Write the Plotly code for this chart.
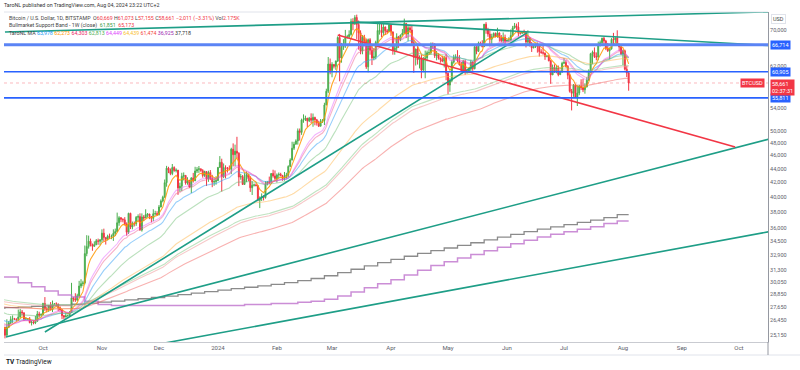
import numpy as np
import pandas as pd
import plotly.graph_objects as go

# ---------------- daily BTCUSD (thousand USD), 2023-09-10 .. 2024-08-04 ----------------
first_open = 25.90
close_sep = [25.84, 25.16, 25.85, 26.23, 26.53, 26.60, 26.57, 26.53, 26.76, 27.21, 27.13, 26.57, 26.58, 26.58, 26.25, 26.30, 26.22, 26.37, 27.02, 26.91, 26.97]
high_sep = [26.00, 25.88, 26.55, 26.40, 26.82, 26.89, 26.67, 26.62, 27.43, 27.49, 27.39, 27.16, 26.74, 26.64, 26.74, 26.43, 26.39, 26.84, 27.30, 27.23, 27.09]
low_sep = [25.62, 24.90, 25.13, 25.77, 26.13, 26.23, 26.48, 26.39, 26.40, 26.67, 26.88, 26.40, 26.51, 26.50, 26.19, 26.00, 26.10, 26.12, 26.33, 26.70, 26.88]

close_oct = [27.99, 27.50, 27.43, 27.79, 27.41, 27.94, 27.96, 27.93, 27.59, 27.39, 26.87, 26.75, 26.86, 26.86, 27.16, 28.52, 28.42, 28.33, 28.72, 29.68, 29.92, 29.99, 33.09, 33.90, 34.50, 34.16, 33.91, 34.09, 34.54, 34.49, 34.66]
high_oct = [28.06, 28.60, 27.67, 27.83, 28.12, 28.27, 28.03, 28.10, 27.99, 27.72, 27.48, 26.94, 27.10, 26.97, 27.29, 30.00, 28.62, 28.97, 28.92, 30.20, 30.37, 30.21, 34.00, 35.20, 35.15, 34.80, 34.20, 34.48, 34.75, 34.80, 34.72]
low_oct = [26.95, 27.30, 27.16, 27.21, 27.35, 27.20, 27.87, 27.75, 27.29, 27.32, 26.56, 26.57, 26.72, 26.82, 26.82, 27.11, 28.16, 28.14, 28.21, 28.60, 29.47, 29.66, 29.85, 32.80, 33.65, 33.90, 33.41, 33.86, 34.05, 34.09, 34.05]

close_nov = [35.44, 34.94, 34.73, 35.08, 35.04, 35.05, 35.42, 35.63, 36.70, 37.32, 37.14, 37.07, 36.49, 35.55, 37.88, 36.17, 36.60, 36.58, 37.38, 37.47, 35.81, 37.42, 37.29, 37.72, 37.80, 37.48, 37.25, 37.83, 37.86, 37.72]
high_nov = [35.90, 35.98, 34.94, 35.26, 35.39, 35.28, 35.90, 35.99, 37.97, 37.52, 37.41, 37.25, 37.40, 36.75, 37.95, 37.95, 36.85, 36.85, 37.54, 37.75, 37.88, 37.87, 37.65, 38.40, 37.90, 37.60, 37.55, 38.40, 38.20, 38.15]
low_nov = [34.35, 34.47, 34.11, 34.58, 34.78, 34.73, 34.53, 35.11, 35.58, 36.33, 36.77, 36.76, 36.37, 35.15, 35.35, 35.93, 35.90, 36.25, 36.32, 36.87, 35.76, 35.63, 36.90, 37.27, 37.36, 37.15, 36.75, 36.90, 37.60, 37.55]

close_dec = [38.69, 39.47, 39.98, 41.99, 44.08, 43.77, 43.29, 44.18, 43.72, 43.79, 41.25, 41.49, 42.89, 43.02, 41.94, 42.28, 41.36, 42.66, 42.26, 43.66, 43.87, 43.99, 43.72, 43.01, 43.58, 42.51, 43.44, 42.58, 42.07, 42.14, 42.28]
high_dec = [38.95, 39.69, 40.19, 42.43, 44.42, 44.28, 44.03, 44.70, 44.35, 44.05, 43.80, 41.98, 43.40, 43.45, 43.08, 42.75, 42.40, 42.75, 43.38, 44.28, 44.23, 44.40, 43.80, 43.94, 43.70, 43.60, 43.70, 43.80, 43.10, 42.60, 42.90]
low_dec = [37.60, 38.65, 39.30, 39.95, 41.42, 43.35, 43.05, 43.05, 43.55, 43.45, 40.30, 40.70, 40.80, 42.30, 41.70, 41.70, 41.30, 40.54, 42.00, 42.20, 43.37, 43.38, 43.55, 42.70, 42.80, 41.52, 42.10, 42.35, 41.35, 41.55, 41.70]

close_jan = [44.19, 44.95, 42.85, 44.17, 44.16, 43.97, 43.93, 46.97, 46.12, 46.66, 46.35, 42.78, 42.85, 41.73, 42.51, 43.15, 42.74, 41.27, 41.62, 41.67, 41.56, 39.57, 39.89, 40.08, 39.93, 41.82, 42.12, 42.03, 43.30, 42.95, 42.58]
high_jan = [44.24, 45.90, 45.50, 44.78, 44.50, 44.23, 44.48, 47.20, 47.90, 47.70, 48.97, 46.50, 43.26, 43.08, 43.35, 43.58, 43.20, 42.90, 42.20, 41.86, 41.88, 41.67, 40.10, 40.50, 40.26, 42.20, 42.20, 42.85, 43.32, 43.85, 43.74]
low_jan = [42.20, 44.18, 40.75, 42.62, 42.60, 43.43, 43.80, 43.20, 44.34, 44.35, 45.62, 41.50, 42.40, 41.70, 41.72, 42.05, 42.20, 40.70, 40.28, 41.45, 41.50, 39.45, 38.55, 39.48, 39.55, 39.80, 41.60, 41.78, 41.85, 42.70, 42.28]

close_feb = [43.08, 43.18, 42.99, 42.58, 42.66, 43.09, 44.34, 45.29, 47.13, 47.77, 48.29, 49.96, 49.70, 51.81, 51.90, 52.13, 51.66, 52.12, 51.78, 52.26, 51.85, 51.30, 50.74, 51.57, 51.73, 54.49, 57.06, 62.50, 61.17]
high_feb = [43.30, 43.45, 43.40, 43.10, 43.52, 43.40, 44.50, 45.56, 48.17, 48.15, 48.55, 50.36, 50.35, 52.05, 52.80, 52.57, 52.18, 52.35, 52.98, 52.95, 52.38, 52.00, 51.68, 51.98, 51.96, 54.90, 57.55, 64.00, 63.68]
low_feb = [42.00, 42.60, 42.88, 42.25, 42.27, 42.60, 42.80, 44.30, 45.26, 46.85, 47.72, 47.70, 48.35, 49.29, 51.33, 51.63, 50.60, 51.45, 51.28, 50.65, 50.90, 50.85, 50.60, 50.90, 51.30, 50.95, 54.45, 56.70, 60.40]

close_mar = [62.44, 62.03, 63.13, 68.33, 63.80, 66.11, 66.93, 68.30, 68.50, 69.02, 72.12, 71.48, 73.08, 71.40, 69.43, 65.30, 68.39, 67.61, 61.93, 67.84, 65.50, 63.80, 64.07, 67.23, 69.96, 69.99, 69.46, 70.78, 69.89, 69.65, 71.31]
high_mar = [62.90, 62.40, 63.25, 68.60, 69.17, 67.10, 67.95, 70.10, 68.95, 70.00, 72.80, 72.90, 73.65, 73.78, 72.35, 70.00, 68.90, 68.95, 68.10, 68.10, 68.20, 66.60, 65.94, 67.60, 71.50, 71.50, 71.65, 71.50, 70.90, 70.30, 71.35]
low_mar = [59.80, 61.60, 61.30, 62.95, 59.00, 62.80, 65.55, 66.00, 68.10, 68.20, 68.75, 70.00, 71.30, 68.00, 65.60, 64.60, 64.60, 66.60, 61.50, 60.80, 64.50, 62.30, 63.30, 63.50, 66.80, 69.00, 68.40, 68.80, 68.90, 69.30, 69.60]

close_apr = [69.65, 65.46, 65.96, 68.50, 67.83, 68.90, 69.36, 71.62, 69.14, 70.59, 70.06, 67.15, 63.90, 65.74, 63.42, 63.80, 61.28, 63.47, 63.82, 64.94, 64.94, 66.84, 66.41, 64.28, 64.50, 63.77, 63.46, 63.12, 63.84, 60.61]
high_apr = [71.30, 69.65, 66.90, 69.30, 68.70, 69.00, 70.30, 72.80, 71.70, 71.20, 71.30, 71.20, 67.90, 65.82, 66.90, 64.35, 64.45, 64.00, 65.40, 65.40, 65.70, 67.20, 67.20, 67.05, 65.30, 64.80, 63.90, 64.30, 64.20, 64.70]
low_apr = [68.70, 64.50, 64.50, 65.10, 66.00, 67.50, 68.80, 69.05, 68.20, 67.50, 69.50, 66.70, 60.70, 62.20, 62.40, 61.60, 59.60, 60.80, 59.60, 63.10, 64.50, 64.50, 65.80, 63.80, 63.30, 63.45, 62.80, 62.90, 61.80, 59.20]

close_may = [58.25, 59.12, 62.90, 63.89, 64.03, 63.16, 62.33, 61.18, 63.08, 60.79, 60.80, 61.45, 62.90, 61.55, 66.25, 65.23, 67.05, 66.94, 66.27, 71.45, 70.14, 69.12, 67.93, 68.53, 69.27, 68.51, 69.40, 68.31, 67.60, 68.36, 67.49]
high_may = [60.80, 59.60, 63.30, 64.50, 64.60, 65.50, 64.40, 62.95, 63.40, 63.45, 61.50, 61.80, 63.40, 63.10, 66.40, 66.70, 67.40, 67.40, 67.70, 71.50, 71.95, 70.60, 70.00, 69.20, 69.50, 69.50, 70.60, 69.50, 68.90, 69.50, 69.00]
low_may = [56.50, 56.95, 58.80, 62.60, 63.45, 62.90, 62.20, 60.80, 60.70, 60.30, 60.50, 60.60, 60.80, 61.10, 61.40, 64.60, 65.10, 66.70, 66.10, 66.20, 69.20, 68.50, 66.30, 66.60, 68.50, 68.40, 68.30, 67.40, 67.20, 67.10, 66.70]

close_jun = [67.74, 67.77, 68.81, 70.56, 71.07, 70.76, 69.34, 69.31, 69.65, 69.51, 67.32, 68.24, 66.76, 66.01, 66.19, 66.64, 66.49, 65.15, 64.96, 64.84, 64.10, 64.25, 63.18, 60.28, 61.80, 60.84, 61.68, 60.32, 60.89, 62.68]
high_jun = [67.85, 68.40, 70.20, 71.05, 71.75, 71.60, 71.95, 69.50, 69.85, 70.15, 69.55, 70.00, 68.45, 67.30, 66.40, 66.95, 67.20, 66.60, 65.70, 66.45, 65.00, 64.50, 64.50, 63.35, 62.40, 62.45, 62.30, 62.20, 61.20, 63.00]
low_jun = [67.40, 67.30, 67.60, 68.50, 70.40, 70.10, 68.60, 69.00, 69.20, 69.20, 66.10, 66.90, 66.30, 65.10, 65.90, 66.00, 64.95, 64.10, 64.70, 64.50, 63.40, 63.95, 63.10, 58.50, 60.40, 60.70, 60.60, 60.00, 60.30, 60.70]

close_jul = [62.85, 62.03, 60.20, 57.04, 56.66, 58.23, 55.86, 56.71, 58.05, 57.72, 57.34, 57.89, 59.21, 60.79, 64.72, 65.04, 64.09, 63.99, 66.66, 67.15, 68.16, 67.55, 65.93, 65.37, 65.79, 67.90, 67.81, 68.25, 66.78, 66.19, 64.62]
high_jul = [63.80, 63.30, 62.30, 60.50, 57.50, 58.45, 58.40, 58.20, 58.30, 59.40, 59.50, 58.60, 59.80, 61.40, 64.90, 65.40, 66.10, 65.00, 67.40, 67.65, 68.30, 68.45, 67.80, 67.10, 66.10, 68.20, 69.40, 68.30, 70.00, 66.95, 66.80]
low_jul = [62.50, 61.80, 59.40, 56.80, 53.50, 56.00, 55.80, 54.30, 56.30, 57.30, 56.90, 56.60, 57.80, 59.10, 60.70, 62.50, 63.80, 63.30, 63.30, 66.30, 66.50, 66.60, 65.50, 65.10, 63.50, 65.60, 66.70, 67.10, 66.50, 65.30, 64.50]

close_aug = [65.35, 61.45, 60.669, 58.661]
high_aug = [65.60, 65.60, 62.15, 61.073]
low_aug = [62.30, 61.20, 59.85, 57.155]

months_close = [close_sep, close_oct, close_nov, close_dec, close_jan, close_feb, close_mar, close_apr, close_may, close_jun, close_jul, close_aug]
months_high = [high_sep, high_oct, high_nov, high_dec, high_jan, high_feb, high_mar, high_apr, high_may, high_jun, high_jul, high_aug]
months_low = [low_sep, low_oct, low_nov, low_dec, low_jan, low_feb, low_mar, low_apr, low_may, low_jun, low_jul, low_aug]
month_days = [21, 31, 30, 31, 31, 29, 31, 30, 31, 30, 31, 4]
for c, h, l, n in zip(months_close, months_high, months_low, month_days):
    assert len(c) == n and len(h) == n and len(l) == n, (len(c), len(h), len(l), n)

close = [v * 1000 for m in months_close for v in m]
high = [v * 1000 for m in months_high for v in m]
low = [v * 1000 for m in months_low for v in m]
open_ = [first_open * 1000] + close[:-1]
high = [max(h, o, c) for h, o, c in zip(high, open_, close)]
low = [min(l, o, c) for l, o, c in zip(low, open_, close)]
dates = pd.date_range("2023-09-10", periods=len(close), freq="D")

# ---------------- moving averages (EMA of closes, seeded with value read at left edge) ----------------
ma_len = [30, 7, 21, 50, 18, 100, 200, 140, 147]
ma_seed = [26500, 25950, 26200, 27200, 26100, 28000, 27700, 28400, 28200]
ma_color = ["#42a5f5", "#ff9800", "#f06292", "#66bb6a", "#e040fb", "#ffb74d", "#ef5350", "#81c784", "#ef9a9a"]
ma_alpha = [0.55, 0.85, 0.5, 0.45, 0.4, 0.5, 0.45, 0.5, 0.55]

# weekly (Monday) long moving averages (thousand USD)
week_start = pd.date_range("2023-09-04", periods=48, freq="7D")
gray_wk = [27.55, 27.60, 27.66, 27.72, 27.78, 27.84, 27.92, 28.02, 28.12, 28.22, 28.33, 28.44, 28.56, 28.70, 28.84, 28.98,
           29.12, 29.27, 29.42, 29.56, 29.70, 29.85, 30.02, 30.22, 30.44, 30.72, 31.05, 31.40, 31.75, 32.10, 32.45, 32.80,
           33.12, 33.42, 33.72, 34.02, 34.32, 34.65, 34.98, 35.30, 35.62, 35.92, 36.20, 36.48, 36.75, 37.02, 37.35, 37.718]
purple_wk = [30.6, 30.6, 30.0, 29.6, 29.2, 28.8, 28.6, 28.2, 27.9, 27.8, 27.8, 27.8, 27.8, 27.8, 27.8, 27.8,
             27.8, 27.8, 27.8, 27.9, 27.9, 28.0, 28.0, 28.1, 28.2, 28.4, 28.7, 29.1, 29.5, 29.9, 30.3, 30.8,
             31.3, 31.8, 32.2, 32.6, 33.0, 33.4, 33.8, 34.2, 34.6, 35.0, 35.3, 35.6, 35.9, 36.2, 36.6, 36.925]

# horizontal levels
h_levels = [66714, 60905, 55811]
h_width = [3, 1.6, 1.6]
h_color = ["#5b84f5", "#2962ff", "#2962ff"]

# trend lines: (start date, start price, end date, end price)
trend_teal = [
    ("2023-09-11", 69620, "2024-10-17", 74480),
    ("2024-03-14", 71950, "2024-10-17", 66510),
    ("2023-10-02", 25440, "2024-06-11 12:00", 69390),
    ("2023-09-11 12:00", 25020, "2024-10-17", 48610),
    ("2023-12-01 12:00", 24440, "2024-10-17", 35620),
]
trend_red = [("2024-03-04", 68920, "2024-09-29", 47330)]

x_ticks = ["2023-10-01", "2023-11-01", "2023-12-01", "2024-01-01", "2024-02-01", "2024-03-01", "2024-04-01",
           "2024-05-01", "2024-06-01", "2024-07-01", "2024-08-01", "2024-09-01", "2024-10-01"]
x_labels = ["Oct", "Nov", "Dec", "2024", "Feb", "Mar", "Apr", "May", "Jun", "Jul", "Aug", "Sep", "Oct"]
y_ticks = [70000, 62000, 54000, 50000, 48000, 46000, 44000, 42000, 40000, 38000, 36000, 34500, 32900, 31300,
           30050, 28850, 27650, 26450, 25150]
last_price = 58661


def ema(values, n, seed):
    a = 2.0 / (n + 1)
    e = seed
    out = []
    for v in values:
        e = e + a * (v - e)
        out.append(e)
    return out


def rgba(hexc, a):
    hexc = hexc.lstrip("#")
    r, g, b = int(hexc[0:2], 16), int(hexc[2:4], 16), int(hexc[4:6], 16)
    return f"rgba({r},{g},{b},{a})"


fig = go.Figure()

# weekly step lines mapped onto daily dates
wk_idx = [(d - week_start[0]).days // 7 for d in dates]
fig.add_trace(go.Scatter(x=dates, y=[gray_wk[i] * 1000 for i in wk_idx], mode="lines", line_shape="hv",
                         line=dict(color="rgba(110,110,110,0.8)", width=1.3), hoverinfo="skip"))
fig.add_trace(go.Scatter(x=dates, y=[purple_wk[i] * 1000 for i in wk_idx], mode="lines", line_shape="hv",
                         line=dict(color="rgba(186,104,200,0.75)", width=1.5), hoverinfo="skip"))

for n, s, c, a in zip(ma_len, ma_seed, ma_color, ma_alpha):
    fig.add_trace(go.Scatter(x=dates, y=ema(close, n, s), mode="lines",
                             line=dict(color=rgba(c, a), width=1.1), hoverinfo="skip"))

# trend lines
for x0, y0, x1, y1 in trend_teal:
    fig.add_trace(go.Scatter(x=[x0, x1], y=[y0, y1], mode="lines",
                             line=dict(color="#1e9e87", width=1.6), hoverinfo="skip"))
for x0, y0, x1, y1 in trend_red:
    fig.add_trace(go.Scatter(x=[x0, x1], y=[y0, y1], mode="lines",
                             line=dict(color="#f23645", width=1.6), hoverinfo="skip"))

x_range = ["2023-09-10 11:45", "2024-10-16 06:40"]
# last price line
fig.add_trace(go.Scatter(x=x_range, y=[last_price, last_price], mode="lines",
                         line=dict(color="rgba(242,54,69,0.35)", width=1, dash="dot"), hoverinfo="skip"))

fig.add_trace(go.Candlestick(x=dates, open=open_, high=high, low=low, close=close,
                             increasing=dict(line=dict(color="#4caf50", width=1), fillcolor="#4caf50"),
                             decreasing=dict(line=dict(color="#f23645", width=1), fillcolor="#f23645"),
                             whiskerwidth=0, hoverinfo="skip"))

for lv, w, c in zip(h_levels, h_width, h_color):
    fig.add_trace(go.Scatter(x=x_range, y=[lv, lv], mode="lines", line=dict(color=c, width=w), hoverinfo="skip"))

# ---------------- layout ----------------
W, H = 800, 370
ML, MR, MT, MB = 4, 32, 12, 28
PW, PH = W - ML - MR, H - MT - MB


def px(xp):
    return (xp - ML) / PW


def py(yp):
    return 1 - (yp - MT) / PH


FONT = "Roboto, Arial, sans-serif"
fig.update_layout(
    width=W, height=H, margin=dict(l=ML, r=MR, t=MT, b=MB),
    paper_bgcolor="white", plot_bgcolor="white", showlegend=False, hovermode=False,
    font=dict(family=FONT, size=6, color="#555"),
    xaxis=dict(type="date", range=x_range, tickvals=x_ticks, ticktext=x_labels, showgrid=False,
               zeroline=False, showline=True, linecolor="#c9cbd1", linewidth=1, ticks="",
               tickfont=dict(size=6, color="#5d606b"), rangeslider=dict(visible=False), fixedrange=True),
    yaxis=dict(type="log", side="right", range=[4.3909, 4.8718], tickvals=y_ticks,
               ticktext=[f"{v:,}" for v in y_ticks], showgrid=False, zeroline=False, showline=True,
               linecolor="#9598a1", linewidth=1, ticks="", tickfont=dict(size=5.5, color="#5d606b"),
               fixedrange=True),
)

ann = []
# header texts
ann.append(dict(x=px(2), y=py(5), xref="paper", yref="paper", xanchor="left", yanchor="middle", showarrow=False,
                text="TaroNL published on TradingView.com, Aug 04, 2024 23:22 UTC+2",
                font=dict(size=5.3, color="#333")))
R = "#f23645"
l1 = ("Bitcoin / U.S. Dollar, 1D, BITSTAMP  O<span style='color:%s'>60,669</span> H<span style='color:%s'>61,073</span> "
      "L<span style='color:%s'>57,155</span> C<span style='color:%s'>58,661</span> "
      "<span style='color:%s'>−2,011 (−3.31%%)</span> Vol<span style='color:%s'>2.175K</span>") % (R, R, R, R, R, R)
ann.append(dict(x=px(7), y=py(18), xref="paper", yref="paper", xanchor="left", yanchor="middle", showarrow=False,
                text=l1, font=dict(size=5.3, color="#444")))
ann.append(dict(x=px(7), y=py(25.5), xref="paper", yref="paper", xanchor="left", yanchor="middle", showarrow=False,
                text="Bullmarket Support Band - 1W (close)  <span style='color:#43a047'>61,851</span>  "
                     "<span style='color:#f23645'>65,173</span>",
                font=dict(size=5.3, color="#444")))
leg_vals = ["63,978", "62,273", "64,303", "62,813", "64,449", "64,439", "61,474", "36,925", "37,718"]
leg_cols = ["#2196f3", "#ff9800", "#e91e63", "#4caf50", "#e040fb", "#f9c02d", "#f44336", "#9c27b0", "#333333"]
l3 = "TaroNL MA " + " ".join(f"<span style='color:{c}'>{v}</span>" for v, c in zip(leg_vals, leg_cols))
ann.append(dict(x=px(7), y=py(33), xref="paper", yref="paper", xanchor="left", yanchor="middle", showarrow=False,
                text=l3, font=dict(size=5.3, color="#444")))

# right axis labels
ann.append(dict(x=1, y=py(19), xref="paper", yref="paper", xanchor="left", yanchor="middle", xshift=3,
                showarrow=False, text="USD", font=dict(size=5.5, color="#444"),
                bordercolor="#e0e3eb", borderwidth=1, borderpad=1, bgcolor="white"))
for lv in h_levels:
    ann.append(dict(x=1, y=np.log10(lv), xref="paper", yref="y", xanchor="left", yanchor="middle", xshift=2,
                    showarrow=False, text=f"{lv:,}", font=dict(size=5.5, color="white"),
                    bgcolor="#2962ff", borderpad=1))
ann.append(dict(x=1, y=np.log10(last_price), xref="paper", yref="y", xanchor="left", yanchor="top", xshift=2,
                yshift=4, showarrow=False, text="58,661<br>02:37:31", font=dict(size=5.5, color="white"),
                bgcolor="#f23645", borderpad=1, align="left"))
ann.append(dict(x=1, y=np.log10(last_price), xref="paper", yref="y", xanchor="right", yanchor="middle", xshift=-3,
                showarrow=False, text="BTCUSD", font=dict(size=5.5, color="white"), bgcolor="#f23645", borderpad=1))
# footer logo
ann.append(dict(x=px(4), y=py(362), xref="paper", yref="paper", xanchor="left", yanchor="middle", showarrow=False,
                text="<b>TV</b> TradingView", font=dict(size=6.5, color="#131722")))
fig.update_layout(annotations=ann)

shapes = [
    dict(type="line", xref="paper", yref="paper", x0=0, x1=1, y0=1, y1=1, line=dict(color="#e0e3eb", width=1)),
    dict(type="line", xref="paper", yref="paper", x0=0, x1=(W - ML) / PW, y0=py(355), y1=py(355),
         line=dict(color="#e0e3eb", width=1)),
    dict(type="line", xref="paper", yref="paper", x0=1, x1=1, y0=py(342), y1=py(355),
         line=dict(color="#9598a1", width=1)),
]
fig.update_layout(shapes=shapes)

fig.write_html("out.html", config={"displayModeBar": False, "staticPlot": True},
               post_script="document.body.style.margin='0';document.body.style.overflow='hidden';")
